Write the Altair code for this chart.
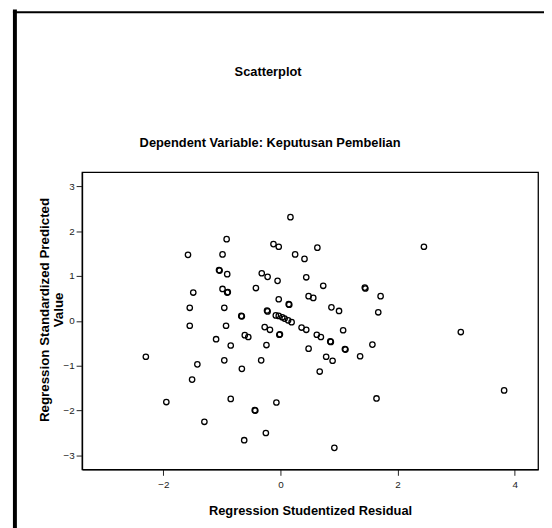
import altair as alt
import pandas as pd

# Regression Studentized Residual (x) and Regression Standardized Predicted Value (y)
resid = [
    0.17, -0.92, -0.12, -0.03, 0.63, 2.45, -1.58, -0.99, 0.25, 0.41,
    -1.05, -1.04, -0.91, -0.32, -0.22, -0.05, 0.44, 0.73, 1.44, 1.45,
    1.71, -1.49, -0.99, -0.90, -0.91, -0.42, -0.03, 0.14, 0.15, 0.48,
    0.56, 0.87, 1.00, 1.67, -1.55, -0.96, -0.67, -0.66, -0.23, -0.22,
    -0.08, -0.03, 0.03, 0.07, 0.13, 0.19, -1.55, -0.93, -0.27, -0.18,
    -0.02, -0.01, 0.36, 0.44, 1.07, 0.62, 0.69, 0.85, 0.86, -0.61,
    -0.55, -1.10, -0.85, -0.24, 0.48, 1.11, 1.10, 1.57, 0.78, 0.89,
    1.36, -2.30, -1.42, -0.96, -0.33, -0.66, 0.67, -1.51, -1.95, -0.85,
    -0.44, -0.43, -0.07, 1.64, 3.82, -1.30, -0.25, -0.62, 0.92, 3.08,
]
predicted = [
    2.31, 1.82, 1.71, 1.65, 1.63, 1.65, 1.47, 1.48, 1.48, 1.38,
    1.13, 1.12, 1.04, 1.06, 0.98, 0.89, 0.97, 0.78, 0.74, 0.72,
    0.55, 0.63, 0.71, 0.64, 0.63, 0.73, 0.48, 0.37, 0.36, 0.55,
    0.51, 0.30, 0.22, 0.19, 0.29, 0.29, 0.11, 0.10, 0.23, 0.21,
    0.12, 0.11, 0.08, 0.05, 0.01, -0.03, -0.11, -0.11, -0.14, -0.20,
    -0.31, -0.30, -0.15, -0.20, -0.21, -0.31, -0.36, -0.46, -0.47, -0.32,
    -0.36, -0.41, -0.55, -0.54, -0.62, -0.64, -0.63, -0.53, -0.80, -0.89,
    -0.79, -0.80, -0.97, -0.88, -0.88, -1.07, -1.13, -1.31, -1.81, -1.74,
    -1.99, -2.00, -1.82, -1.73, -1.55, -2.25, -2.50, -2.66, -2.83, -0.25,
]

x_ticks = [-2, 0, 2, 4]
y_ticks = [-3, -2, -1, 0, 1, 2, 3]

title_text = "Scatterplot"
subtitle_text = "Dependent Variable: Keputusan Pembelian"
x_title = "Regression Studentized Residual"
y_title = ["Regression Standardized Predicted", "Value"]

df = pd.DataFrame({"resid": resid, "pred": predicted})
FONT = "Liberation Sans"

points = alt.Chart(df).mark_point(
    shape="circle", filled=False, color="black", size=30, strokeWidth=1.3, opacity=1
).encode(
    x=alt.X("resid:Q",
            scale=alt.Scale(domain=[-3.39, 4.40], nice=False, zero=False),
            axis=alt.Axis(values=x_ticks, title=x_title, grid=False,
                          domain=True, domainColor="black", domainWidth=1.3,
                          tickSize=6, tickColor="#222", tickWidth=1,
                          labelFont=FONT, labelFontSize=10, labelColor="#222", labelPadding=4,
                          titleFont=FONT, titleFontSize=13, titleFontWeight="bold",
                          titleColor="black", titleY=46, titleBaseline="alphabetic")),
    y=alt.Y("pred:Q",
            scale=alt.Scale(domain=[-3.31, 3.31], nice=False, zero=False),
            axis=alt.Axis(values=y_ticks, title=y_title, grid=False,
                          domain=True, domainColor="black", domainWidth=1.3,
                          tickSize=6, tickColor="#222", tickWidth=1,
                          labelFont=FONT, labelFontSize=10, labelColor="#222", labelPadding=2,
                          titleFont=FONT, titleFontSize=13.5, titleFontWeight="bold",
                          titleColor="black", titleX=-31, titleY=139,
                          titleAngle=270, titleBaseline="bottom", titleAlign="center",
                          titleLineHeight=14)),
)

frame_df = pd.DataFrame({"k": [0]})
left_border = alt.Chart(frame_df).mark_rule(color="black", strokeWidth=4).encode(
    x=alt.value(-68), y=alt.value(-165), y2=alt.value(400)
)
top_border = alt.Chart(frame_df).mark_rule(color="black", strokeWidth=2).encode(
    x=alt.value(-70), x2=alt.value(500), y=alt.value(-162)
)

titles_df = pd.DataFrame({"t": [title_text], "s": [subtitle_text]})
title_mark = alt.Chart(titles_df).mark_text(
    font=FONT, fontSize=13, fontWeight="bold", color="black",
    align="center", baseline="alphabetic"
).encode(text="t:N", x=alt.value(188.5), y=alt.value(-97.5))
subtitle_mark = alt.Chart(titles_df).mark_text(
    font=FONT, fontSize=13, fontWeight="bold", color="black",
    align="center", baseline="alphabetic"
).encode(text="s:N", x=alt.value(190.5), y=alt.value(-26))

chart = alt.layer(left_border, top_border, title_mark, subtitle_mark, points).properties(
    width=462,
    height=301,
    autosize=alt.AutoSizeParams(type="none"),
    padding={"left": 75, "top": 163, "right": 6, "bottom": 57},
).configure(
    background="white",
    view=alt.ViewConfig(stroke="#000000", strokeWidth=1.3),
)

chart.save("out.html", embed_options={"renderer": "svg", "actions": False})
